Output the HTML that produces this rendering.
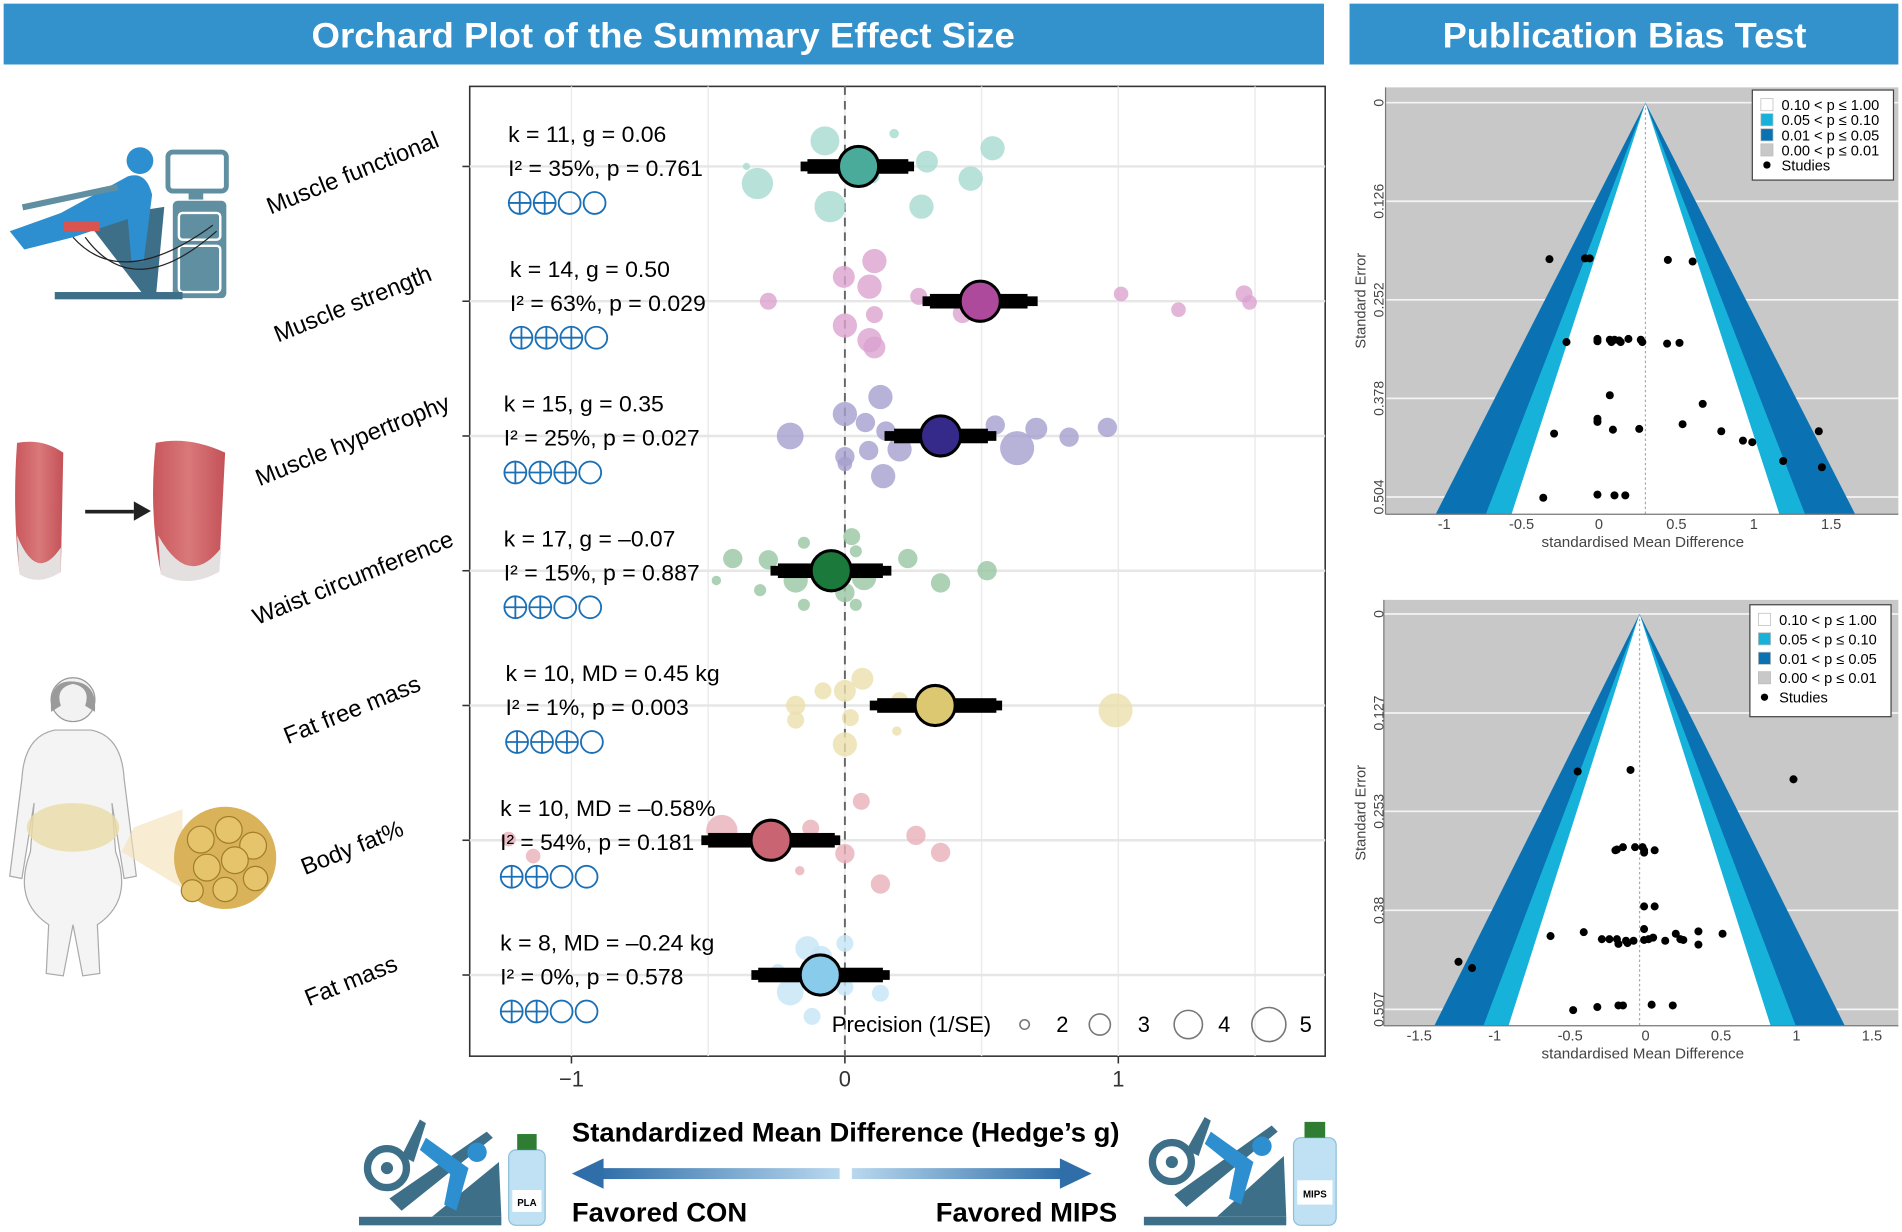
<!DOCTYPE html>
<html><head><meta charset="utf-8"><style>
html,body{margin:0;padding:0;background:#fff;width:1902px;height:1232px;overflow:hidden}
svg{display:block;font-family:"Liberation Sans",sans-serif}
</style></head><body>
<svg id="fig" width="1902" height="1232" viewBox="0 0 1563 1012.5" preserveAspectRatio="none" xmlns="http://www.w3.org/2000/svg">
<defs>
<linearGradient id="gl" x1="0" x2="1"><stop offset="0" stop-color="#2f6ea8"/><stop offset="1" stop-color="#b9d8ef"/></linearGradient>
<linearGradient id="gr" x1="0" x2="1"><stop offset="0" stop-color="#b9d8ef"/><stop offset="1" stop-color="#2f6ea8"/></linearGradient>
<linearGradient id="musc" x1="0" x2="1"><stop offset="0" stop-color="#c9575c"/><stop offset="0.5" stop-color="#d9787a"/><stop offset="1" stop-color="#c45258"/></linearGradient>
</defs>
<rect x="3" y="3" width="1085" height="50" fill="#3392cc"/>
<text x="545" y="39" text-anchor="middle" fill="#fff" font-weight="bold" font-size="29" textLength="578" lengthAdjust="spacingAndGlyphs">Orchard Plot of the Summary Effect Size</text>
<rect x="1109" y="3" width="451" height="50" fill="#3392cc"/>
<text x="1335" y="39" text-anchor="middle" fill="#fff" font-weight="bold" font-size="29" textLength="299" lengthAdjust="spacingAndGlyphs">Publication Bias Test</text>

<!-- left illustrations -->
<g>
<rect x="138" y="125" width="48" height="32" rx="4" fill="none" stroke="#5f8fa0" stroke-width="4"/>
<rect x="155" y="158" width="12" height="6" fill="#5f8fa0"/>
<rect x="142" y="165" width="44" height="80" rx="4" fill="#5f8fa0"/>
<rect x="147" y="175" width="34" height="22" rx="3" fill="none" stroke="#fff" stroke-width="2"/>
<rect x="147" y="202" width="34" height="38" rx="3" fill="none" stroke="#fff" stroke-width="2"/>
<rect x="45" y="240" width="105" height="6" fill="#3d6f88"/>
<path d="M70 180 L135 170 L128 245 L120 245 Z" fill="#3d6f88"/>
<circle cx="115" cy="132" r="11" fill="#2d8fd0"/>
<path d="M105 145 Q120 140 125 160 L118 215 L108 215 L105 180 L60 195 L20 205 L8 190 L50 175 Z" fill="#2d8fd0"/>
<rect x="18" y="168" width="80" height="5" transform="rotate(-12 18 168)" fill="#5f8fa0"/>
<rect x="52" y="182" width="30" height="8" fill="#d9534f"/>
<path d="M60 195 Q100 240 175 185" fill="none" stroke="#222" stroke-width="1"/>
<path d="M70 195 Q110 250 178 190" fill="none" stroke="#222" stroke-width="1"/>
</g>
<g>
<path d="M14 364 Q35 360 52 372 L50 470 Q32 480 16 470 Q10 420 14 364 Z" fill="url(#musc)"/>
<path d="M14 440 Q30 480 50 450 L50 470 Q32 482 16 472 Z" fill="#e5e0e0"/>
<rect x="70" y="419" width="40" height="3" fill="#222"/>
<path d="M110 412 L124 420 L110 428 Z" fill="#222"/>
<path d="M128 364 Q155 358 185 372 L180 470 Q155 482 132 470 Q122 420 128 364 Z" fill="url(#musc)"/>
<path d="M130 440 Q155 485 182 450 L180 470 Q155 484 132 472 Z" fill="#e5e0e0"/>
</g>
<g>
<circle cx="60" cy="575" r="18" fill="#f2f2f2" stroke="#999"/>
<path d="M58 560 Q40 560 42 585 L50 580 Q45 565 60 562 Q75 565 70 580 L78 585 Q80 560 58 560 Z" fill="#9a9a9a"/>
<path d="M45 600 Q20 605 18 640 L8 720 L18 722 L28 660 L25 700 Q10 740 40 760 L38 800 L52 802 L60 760 L68 802 L82 800 L80 760 Q110 740 95 700 L92 660 L102 722 L112 720 L102 640 Q100 605 75 600 Z" fill="#f4f4f4" stroke="#aaa"/>
<ellipse cx="60" cy="680" rx="38" ry="20" fill="#eadca6" opacity="0.8"/>
<path d="M110 680 L150 665 L150 730 L100 700 Z" fill="#f3dfb6" opacity="0.6"/>
<circle cx="185" cy="705" r="42" fill="#d9b259"/>
<circle cx="165" cy="690" r="11" fill="#e5c46b" stroke="#a27d2b"/><circle cx="188" cy="682" r="11" fill="#e5c46b" stroke="#a27d2b"/><circle cx="208" cy="695" r="11" fill="#e5c46b" stroke="#a27d2b"/><circle cx="170" cy="713" r="11" fill="#e5c46b" stroke="#a27d2b"/><circle cx="193" cy="707" r="11" fill="#e5c46b" stroke="#a27d2b"/><circle cx="210" cy="722" r="10" fill="#e5c46b" stroke="#a27d2b"/><circle cx="185" cy="731" r="10" fill="#e5c46b" stroke="#a27d2b"/><circle cx="158" cy="732" r="9" fill="#e5c46b" stroke="#a27d2b"/>
</g>

<g id="orchard"></g>
<g id="funnels"></g>

<!-- bottom -->
<text x="470" y="938" font-size="22" font-weight="bold" textLength="450" lengthAdjust="spacingAndGlyphs">Standardized Mean Difference (Hedge’s g)</text>
<g><rect x="492" y="960" width="198" height="9" fill="url(#gl)"/><path d="M470 964.5 L496 952 L496 977 Z" fill="#2f6ea8"/></g>
<g><rect x="700" y="960" width="175" height="9" fill="url(#gr)"/><path d="M897 964.5 L871 952 L871 977 Z" fill="#2f6ea8"/></g>
<text x="470" y="1004" font-size="22" font-weight="bold" textLength="144" lengthAdjust="spacingAndGlyphs">Favored CON</text>
<text x="769" y="1004" font-size="22" font-weight="bold" textLength="149" lengthAdjust="spacingAndGlyphs">Favored MIPS</text>
<g>
<rect x="295" y="1000" width="117" height="7" fill="#3d6f88"/>
<circle cx="318" cy="960" r="16" fill="none" stroke="#3d6f88" stroke-width="6"/><circle cx="318" cy="960" r="5" fill="#3d6f88"/>
<path d="M330 950 L345 920 L350 923 L340 955 Z M320 985 L400 930 L405 935 L330 995 Z M355 1000 L410 955 L412 1000 Z" fill="#3d6f88"/>
<circle cx="392" cy="947" r="8" fill="#2d8fd0"/><path d="M350 935 L385 960 L375 995 L365 990 L370 965 L345 945 Z" fill="#2d8fd0"/>
<rect x="418" y="945" width="30" height="62" rx="6" fill="#bfe1f3" stroke="#8bbfd9"/><rect x="425" y="932" width="16" height="13" fill="#2e7d32"/>
<rect x="421" y="978" width="24" height="18" fill="#fff"/><text x="433" y="991" font-size="8" font-weight="bold" text-anchor="middle">PLA</text>
</g>
<g>
<rect x="940" y="1000" width="117" height="7" fill="#3d6f88"/>
<circle cx="963" cy="955" r="16" fill="none" stroke="#3d6f88" stroke-width="6"/><circle cx="963" cy="955" r="5" fill="#3d6f88"/>
<path d="M975 945 L990 918 L995 921 L985 950 Z M965 982 L1045 925 L1050 930 L975 992 Z M1000 1000 L1055 950 L1057 1000 Z" fill="#3d6f88"/>
<circle cx="1037" cy="942" r="8" fill="#2d8fd0"/><path d="M995 930 L1030 955 L1020 990 L1010 985 L1015 960 L990 940 Z" fill="#2d8fd0"/>
<rect x="1063" y="935" width="35" height="72" rx="6" fill="#bfe1f3" stroke="#8bbfd9"/><rect x="1072" y="922" width="17" height="13" fill="#2e7d32"/>
<rect x="1066" y="970" width="29" height="20" fill="#fff"/><text x="1080.5" y="984" font-size="8" font-weight="bold" text-anchor="middle">MIPS</text>
</g>
</svg>
<script>
// ===== Orchard data =====
const categories = ["Muscle functional","Muscle strength","Muscle hypertrophy","Waist circumference","Fat free mass","Body fat%","Fat mass"];
const summaryEst = [0.05, 0.495, 0.35, -0.05, 0.33, -0.27, -0.09];
const ciLow = [-0.137, 0.311, 0.18, -0.245, 0.118, -0.5, -0.317];
const ciHigh = [0.232, 0.668, 0.523, 0.139, 0.554, -0.037, 0.139];
const piLow = [-0.162, 0.284, 0.145, -0.272, 0.091, -0.525, -0.342];
const piHigh = [0.253, 0.705, 0.554, 0.17, 0.575, -0.017, 0.164];
const statLine1 = ["k = 11, g = 0.06","k = 14, g = 0.50","k = 15, g = 0.35","k = 17, g = –0.07","k = 10, MD = 0.45 kg","k = 10, MD = –0.58%","k = 8, MD = –0.24 kg"];
const statLine2 = ["I² = 35%, p = 0.761","I² = 63%, p = 0.029","I² = 25%, p = 0.027","I² = 15%, p = 0.887","I² = 1%, p = 0.003","I² = 54%, p = 0.181","I² = 0%, p = 0.578"];
const gradeScore = [2,3,3,2,3,2,2];
const studyEffect = [
 [-0.073,0.18,0.54,0.30,-0.36,-0.32,0.46,-0.054,0.28,0.10],
 [0.108,-0.004,0.09,-0.28,0.27,0.43,0.108,0,0.09,0.108,1.01,1.22,1.46,1.48],
 [0.13,0,0.075,-0.20,0.15,0.20,0.087,0,0,0.14,0.55,0.70,0.63,0.82,0.96],
 [0.025,-0.15,0.04,-0.41,-0.28,0.23,0.52,-0.47,-0.18,0.07,0.35,-0.31,0,-0.15,0.04],
 [0.064,-0.08,0,-0.18,-0.18,0.02,0.20,0.19,0,0.99],
 [0.06,-0.45,-0.125,-1.23,-1.14,0.26,0.35,0,-0.165,0.13],
 [-0.137,0,-0.087,-0.20,0,0.13,-0.12,-0.245]
];
const studyJitter = [
 [-21,-27,-15,-4,0,14,10,33,33,8],
 [-33,-20,-12,0,-4,10,11,20,32,38,-6,7,-6,1],
 [-32,-18,-11,0,-4,11,12,17,23,33,-9,-6,10,1,-7],
 [-28,-23,-16,-10,-9,-10,0,8,8,6,10,16,18,28,28],
 [-22,-12,-12,0,12,10,-4,21,32,4],
 [-32,-8,-10,-1,13,-4,10,11,25,36],
 [-22,-26,-15,14,10,15,34,-3]
];
const studyPrecision = [
 [4.1,2.0,3.4,3.1,1.9,4.5,3.4,4.5,3.4,2.35],
 [3.4,3.1,3.4,2.56,2.56,2.8,2.56,3.4,3.4,3.1,2.35,2.35,2.56,2.35],
 [3.4,3.4,2.8,3.76,2.8,3.4,2.8,2.8,2.35,3.4,2.8,3.1,5.0,2.8,2.8],
 [2.56,2.16,2.16,2.8,2.8,2.8,2.8,2.0,3.4,3.4,2.8,2.16,2.8,2.16,2.16],
 [3.1,2.56,3.1,2.8,2.56,2.56,2.56,2.0,3.4,5.0],
 [2.56,4.5,2.56,2.35,2.35,2.8,2.8,2.8,2.0,2.8],
 [3.4,2.56,3.1,3.76,2.56,2.56,2.56,2.35]
];
const legendPrecision = [2,3,4,5];
const xTicks = [-1,0,1];
const xGrid = [-1,-0.5,0,0.5,1,1.5];
const mainColors = ["#4aab9a","#ad4a9c","#352a8a","#1b7a3b","#dcc870","#c96572","#88cbea"];
const ptColors = ["#a6dbd0","#dba3d0","#a59fcd","#98c6a3","#ebe0ad","#e8b0ba","#c6e5f6"];

// ===== Funnel data =====
const f1Effect = [-0.32,-0.09,-0.06,0.445,0.605,-0.21,-0.01,-0.01,0.07,0.10,0.13,0.08,0.14,0.19,0.27,0.28,0.44,0.52,0.07,0.67,-0.01,-0.01,0.54,-0.29,0.09,0.26,0.79,1.42,0.93,0.99,1.19,1.44,-0.36,-0.01,0.10,0.17];
const f1SE = [0.200,0.199,0.199,0.201,0.203,0.306,0.302,0.305,0.303,0.303,0.304,0.306,0.306,0.302,0.303,0.306,0.308,0.307,0.374,0.385,0.404,0.408,0.411,0.423,0.418,0.417,0.420,0.420,0.432,0.434,0.458,0.466,0.505,0.501,0.502,0.502];
const f1Center = 0.3;
const f1SeTicks = ["0","0.126","0.252","0.378","0.504"];
const f1XTicks = [-1,-0.5,0,0.5,1,1.5];
const f2Effect = [-0.45,-0.10,0.98,-0.20,-0.19,-0.15,-0.07,-0.02,-0.01,-0.01,0.06,-0.01,0.06,-0.01,-0.41,-0.63,-0.29,-0.24,-0.19,-0.18,-0.13,-0.12,-0.08,-0.01,0.02,0.05,0.13,0.20,0.23,0.25,0.35,0.35,0.51,-1.24,-1.15,-0.48,-0.32,-0.18,-0.15,0.04,0.18];
const f2SE = [0.202,0.200,0.212,0.303,0.302,0.299,0.299,0.299,0.303,0.306,0.303,0.375,0.375,0.404,0.408,0.413,0.417,0.417,0.417,0.423,0.419,0.422,0.419,0.418,0.417,0.415,0.419,0.410,0.417,0.418,0.407,0.424,0.410,0.446,0.454,0.508,0.504,0.502,0.502,0.501,0.502];
const f2Center = -0.04;
const f2SeTicks = ["0","0.127","0.253","0.38","0.507"];
const f2XTicks = [-1.5,-1,-0.5,0,0.5,1,1.5];
const contourZ = [2.576,1.96,1.645];
const contourColors = ["#0a72b3","#17b2d9","#ffffff"];
const legendLabels = ["0.10 < p ≤ 1.00","0.05 < p ≤ 0.10","0.01 < p ≤ 0.05","0.00 < p ≤ 0.01"];
const legendFills = ["#ffffff","#17b2d9","#0a72b3","#c8c8c8"];

const NS="http://www.w3.org/2000/svg";
function mk(parent,tag,attrs,txt){const e=document.createElementNS(NS,tag);for(const k in attrs)e.setAttribute(k,attrs[k]);if(txt!==undefined)e.textContent=txt;parent.appendChild(e);return e;}

// ===== Orchard =====
const og=document.getElementById('orchard');
const PL=386,PR=1089,PT=71,PB=868;
const xs=v=>694.3+v*224.7;
const ys=i=>136.8+i*110.75;
const prR=p=>14*Math.sqrt(Math.max(p-1.75,0.02)/3.25);
const panel=mk(og,'rect',{x:PL,y:PT,width:PR-PL,height:PB-PT,fill:'#fff',stroke:'#333','stroke-width':1.3});


xGrid.forEach(v=>{const l=mk(og,'line',{x1:xs(v),x2:xs(v),y1:PT,y2:PB,stroke:'#ebebeb','stroke-width':1.2});

});
categories.forEach((c,i)=>{const l=mk(og,'line',{x1:PL,x2:PR,y1:ys(i),y2:ys(i),stroke:'#e6e6e6','stroke-width':2});


const t=mk(og,'line',{x1:PL-6,x2:PL,y1:ys(i),y2:ys(i),stroke:'#333','stroke-width':1.3});

});
const zl=mk(og,'line',{x1:xs(0),x2:xs(0),y1:PT,y2:PB,stroke:'#666','stroke-width':1.6,'stroke-dasharray':'7 5'});


const labelOff=[[362,120],[356,230],[371,336],[374,448],[347,567],[333,686],[328,797]];
categories.forEach((c,i)=>{
 const g=mk(og,'g',{});
 
 
 const lb=mk(og,'text',{x:labelOff[i][0],y:labelOff[i][1],'text-anchor':'end','font-size':19.5,transform:`rotate(-22 ${labelOff[i][0]} ${labelOff[i][1]})`},c);
 
 
 studyEffect[i].forEach((v,j)=>{const p=mk(g,'circle',{cx:xs(v),cy:ys(i)+studyJitter[i][j],r:prR(studyPrecision[i][j]),fill:ptColors[i],'fill-opacity':0.8});
  
  });
 const pi=mk(g,'rect',{x:xs(piLow[i]),y:ys(i)-4,width:xs(piHigh[i])-xs(piLow[i]),height:8,fill:'#000'});
 
 
 const ci=mk(g,'rect',{x:xs(ciLow[i]),y:ys(i)-6,width:xs(ciHigh[i])-xs(ciLow[i]),height:12,fill:'#000'});
 
 
 const m=mk(g,'circle',{cx:xs(summaryEst[i]),cy:ys(i),r:16.5,fill:mainColors[i],stroke:'#000','stroke-width':2.5});
 
 
 const tx=[417.6,419,414,414,415.4,411,411][i];
 const w1=[130,131.5,131.5,141,176,177,176][i], w2=[160,161,161,161,150.7,159.5,150.7][i];
 const t1=mk(g,'text',{x:tx,y:ys(i)-20,'font-size':18,textLength:w1,lengthAdjust:'spacingAndGlyphs'},statLine1[i]);
 
 
 const t2=mk(g,'text',{x:tx,y:ys(i)+8,'font-size':18,textLength:w2,lengthAdjust:'spacingAndGlyphs'},statLine2[i]);
 
 
 for(let k=0;k<4;k++){const cx=tx+9.5+k*20.5,cy=ys(i)+30;
  const gc=mk(g,'circle',{cx:cx,cy:cy,r:9,fill:'none',stroke:'#1a6fb5','stroke-width':1.5});
  
  
  if(k<gradeScore[i]){mk(g,'line',{x1:cx-9,x2:cx+9,y1:cy,y2:cy,stroke:'#1a6fb5','stroke-width':1.5});mk(g,'line',{x1:cx,x2:cx,y1:cy-9,y2:cy+9,stroke:'#1a6fb5','stroke-width':1.5});}
 }
});
xTicks.forEach(v=>{const t=mk(og,'line',{x1:xs(v),x2:xs(v),y1:PB,y2:PB+6,stroke:'#333','stroke-width':1.3});
 
 
 const l=mk(og,'text',{x:xs(v),y:PB+25,'text-anchor':'middle','font-size':18,fill:'#333'},v<0?'−'+Math.abs(v):String(v));
 
 });
const lt=mk(og,'text',{x:683.5,y:848,'font-size':18,textLength:131,lengthAdjust:'spacingAndGlyphs'},'Precision (1/SE)');


const legCx=[842,903.8,976.5,1042.7], legTx=[873,940,1006,1073];
legendPrecision.forEach((p,k)=>{const c=mk(og,'circle',{cx:legCx[k],cy:842,r:prR(p),fill:'none',stroke:'#777','stroke-width':1.3});
 
 
 const t=mk(og,'text',{x:legTx[k],y:848,'font-size':18,'text-anchor':'middle'},String(p));
 
 });

// ===== Funnels =====
const fg=document.getElementById('funnels');
function funnel(cfg){
 const g=mk(fg,'g',{});
 
 
 const fx=v=>cfg.x0+v*cfg.xu, fy=s=>cfg.y0+s*cfg.yu;
 const seMax=(cfg.bottom-cfg.y0)/cfg.yu;
 const bg=mk(g,'rect',{x:cfg.left,y:cfg.top,width:1560-cfg.left,height:cfg.bottom-cfg.top,fill:'#c8c8c8'});
 
 
 cfg.seTicks.forEach(s=>{const y=fy(parseFloat(s));const l=mk(g,'line',{x1:cfg.left,x2:1560,y1:y,y2:y,stroke:'#f4f4f4','stroke-width':1.4});
  
  });
 contourZ.forEach((z,k)=>{const w=z*seMax;const p=mk(g,'polygon',{points:`${fx(cfg.center)},${fy(0)} ${fx(cfg.center-w)},${cfg.bottom} ${fx(cfg.center+w)},${cfg.bottom}`,fill:contourColors[k]});
  
  });
 const cl=mk(g,'line',{x1:fx(cfg.center),x2:fx(cfg.center),y1:fy(0),y2:cfg.bottom,stroke:'#aaa','stroke-width':1,'stroke-dasharray':'2 2'});
 
 
 cfg.eff.forEach((v,i)=>{const d=mk(g,'circle',{cx:fx(v),cy:fy(cfg.se[i]),r:3.3,fill:'#000'});
  
  });
 mk(g,'line',{x1:cfg.left,x2:cfg.left,y1:cfg.top,y2:cfg.bottom,stroke:'#777','stroke-width':1});
 mk(g,'line',{x1:cfg.left,x2:1560,y1:cfg.bottom,y2:cfg.bottom,stroke:'#777','stroke-width':1});
 cfg.seTicks.forEach(s=>{const y=fy(parseFloat(s));const t=mk(g,'text',{x:1137,y:y,'font-size':11.5,fill:'#444','text-anchor':'middle',transform:`rotate(-90 1137 ${y})`},s);
  
  });
 cfg.xTicks.forEach(v=>{const t=mk(g,'text',{x:fx(v),y:cfg.bottom+12,'font-size':12,fill:'#444','text-anchor':'middle'},String(v));
  
  });
 const yt=mk(g,'text',{x:1122,y:(cfg.top+cfg.bottom)/2,'font-size':12,fill:'#444','text-anchor':'middle',transform:`rotate(-90 1122 ${(cfg.top+cfg.bottom)/2})`},'Standard Error');
 
 
 const xt=mk(g,'text',{x:1350,y:cfg.bottom+27,'font-size':12.5,fill:'#444','text-anchor':'middle'},'standardised Mean Difference');
 
 
 const lg=mk(g,'rect',{x:cfg.lx,y:cfg.ly,width:116,height:cfg.lh,fill:'#fff',stroke:'#444','stroke-width':1});
 
 
 const step=(cfg.lh-12)/5;
 legendLabels.forEach((s,k)=>{const y=cfg.ly+6+step*k;
  mk(g,'rect',{x:cfg.lx+7,y:y+1,width:10,height:10,fill:legendFills[k],stroke:'#bbb','stroke-width':0.6});
  const t=mk(g,'text',{x:cfg.lx+24,y:y+10.5,'font-size':12},s);
  
  });
 const y5=cfg.ly+6+step*4;
 mk(g,'circle',{cx:cfg.lx+12,cy:y5+6,r:3,fill:'#000'});
 const st=mk(g,'text',{x:cfg.lx+24,y:y5+10.5,'font-size':12},'Studies');
 
 
}
funnel({name:'funnel-plot-summary',left:1138.6,top:71.8,bottom:422.6,x0:1314,xu:127.2,y0:84.4,yu:642.9,center:f1Center,eff:f1Effect,se:f1SE,seTicks:f1SeTicks,xTicks:f1XTicks,lx:1440,ly:74,lh:74});
funnel({name:'funnel-plot-trimfill',left:1137.2,top:493,bottom:843,x0:1352.3,xu:124,y0:504.6,yu:640.9,center:f2Center,eff:f2Effect,se:f2SE,seTicks:f2SeTicks,xTicks:f2XTicks,lx:1438,ly:497,lh:92});
</script>
</body></html>
